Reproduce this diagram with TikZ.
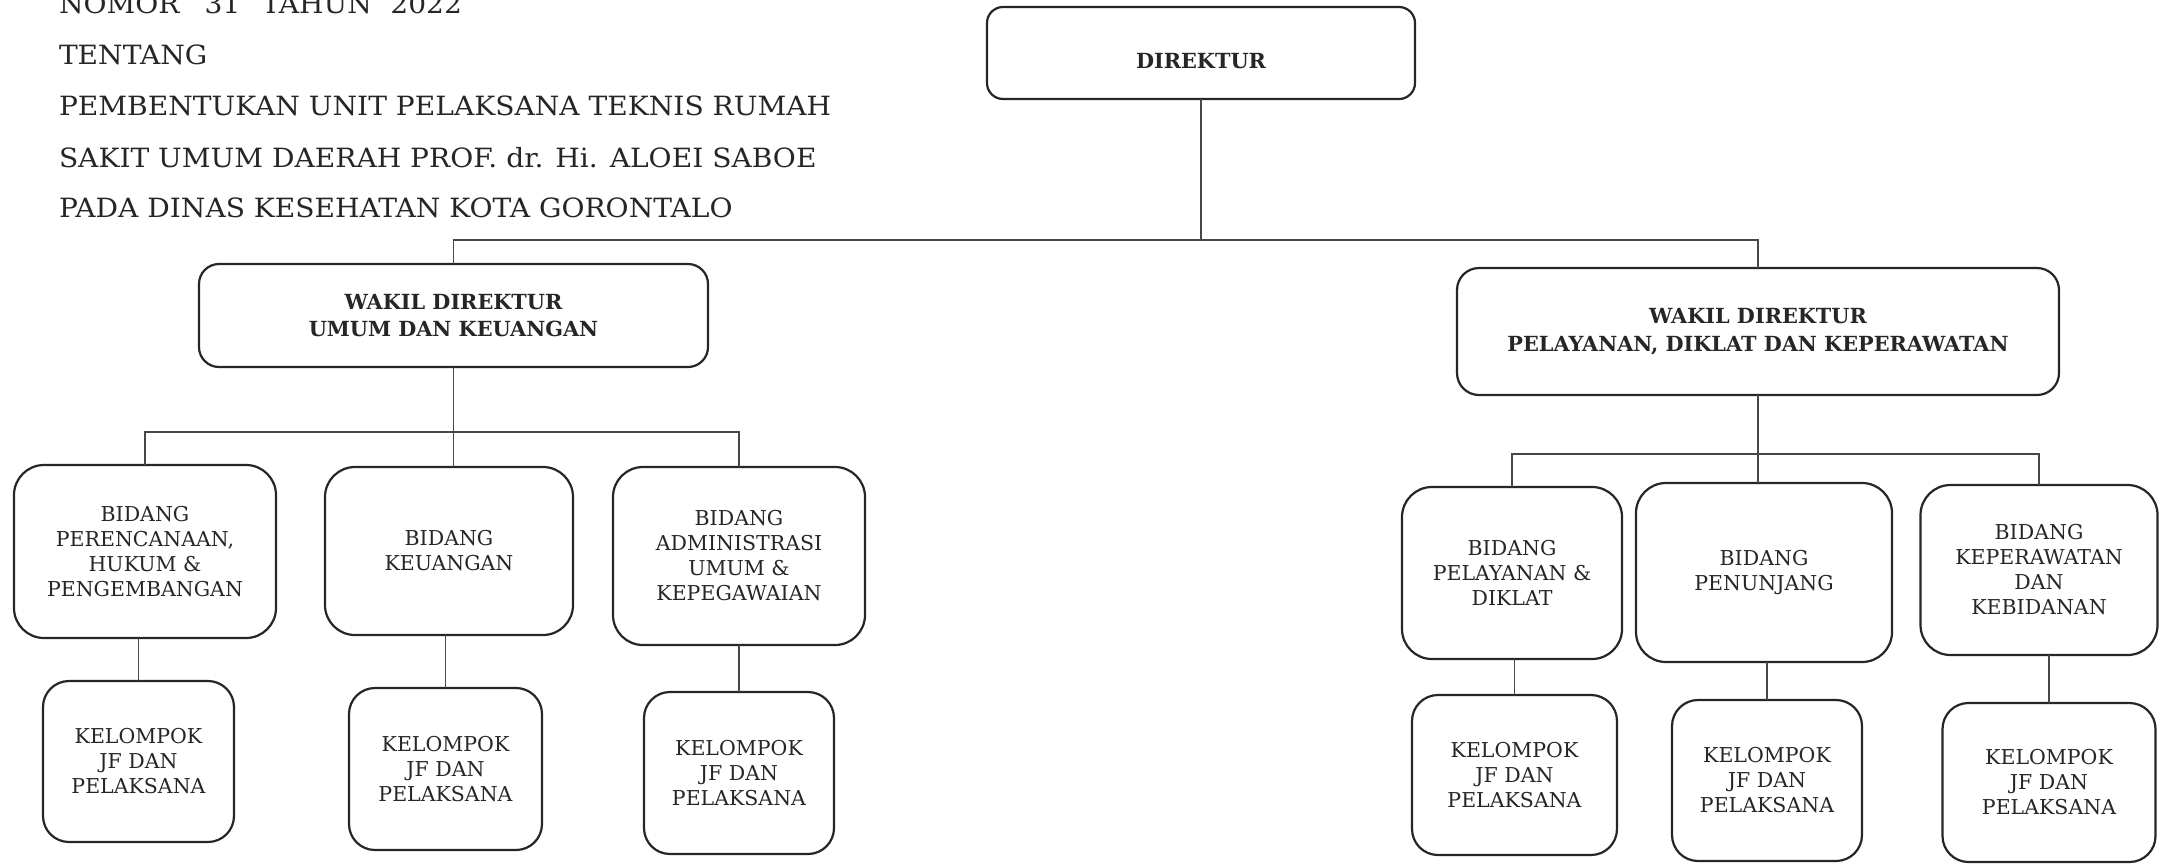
\documentclass[tikz,border=0pt]{standalone}
\usepackage{fontspec}
\setmainfont{DejaVu Serif}
\newfontfamily\headingfont{DejaVu Serif}[FakeStretch=1.06]
\definecolor{ink}{HTML}{262626}
\definecolor{wirecol}{HTML}{474747}

\begin{document}
\begin{tikzpicture}[x=1pt,y=-1pt,
  every node/.style={outer sep=0pt, inner sep=0pt, text=ink},
  card/.style={draw=ink, line width=2.2pt, align=center,
    font=\fontsize{20.5}{25}\selectfont},
  headcard/.style={card, font=\fontsize{20.8}{27.5}\selectfont\bfseries},
  bidang/.style={card, rounded corners=30pt},
  kelompok/.style={card, rounded corners=26pt},
  hdr/.style={anchor=base west, font=\headingfont\fontsize{26.5}{30}\selectfont},
  wire/.style={draw=wirecol, line width=1.3pt},
]
\useasboundingbox (0,0) rectangle (2160,863);
\clip (0,0) rectangle (2160,863);
\fill[white] (0,0) rectangle (2160,863);

% heading of the decree (first line runs off the top edge of the sheet)
\node[hdr] (h1) at (59,13) {NOMOR\hspace{0.95em}31\hspace{0.8em}TAHUN\hspace{0.7em}2022};
\node[hdr] (h2) at (59,64) {TENTANG};
\node[hdr] (h3) at (59,115) {PEMBENTUKAN UNIT PELAKSANA TEKNIS RUMAH};
\node[hdr] (h4) at (59,167) {SAKIT UMUM DAERAH PROF. dr. Hi. ALOEI SABOE};
\node[hdr] (h5) at (59,217) {PADA DINAS KESEHATAN KOTA GORONTALO};

% top level
\node[headcard, rounded corners=16pt, minimum width=428pt, minimum height=92pt,
      text height=31pt, text depth=0pt] (dir) at (1201,53) {DIREKTUR};

% deputy directors
\node[headcard, rounded corners=20pt, minimum width=509pt, minimum height=103pt]
  (w1) at (453.5,315.5) {WAKIL DIREKTUR\\UMUM DAN KEUANGAN};
\node[headcard, rounded corners=22pt, minimum width=602pt, minimum height=127pt]
  (w2) at (1758,331.5) {WAKIL DIREKTUR\\PELAYANAN, DIKLAT DAN KEPERAWATAN};

% divisions, left branch
\node[bidang, minimum width=262pt, minimum height=173pt] (b1) at (145,551.5)
  {BIDANG\\PERENCANAAN,\\HUKUM \&\\PENGEMBANGAN};
\node[bidang, minimum width=248pt, minimum height=168pt] (b2) at (449,551)
  {BIDANG\\KEUANGAN};
\node[bidang, minimum width=252pt, minimum height=178pt] (b3) at (739,556)
  {BIDANG\\ADMINISTRASI\\UMUM \&\\KEPEGAWAIAN};

% divisions, right branch
\node[bidang, minimum width=220pt, minimum height=172pt] (b4) at (1512,573)
  {BIDANG\\PELAYANAN \&\\DIKLAT};
\node[bidang, minimum width=256pt, minimum height=179pt] (b5) at (1764,572.5)
  {BIDANG\\PENUNJANG};
\node[bidang, minimum width=237pt, minimum height=170pt] (b6) at (2039,570)
  {BIDANG\\KEPERAWATAN\\DAN\\KEBIDANAN};

% functional groups
\node[kelompok, minimum width=191pt, minimum height=161pt] (k1) at (138.5,761.5)
  {KELOMPOK\\JF DAN\\PELAKSANA};
\node[kelompok, minimum width=193pt, minimum height=162pt] (k2) at (445.5,769)
  {KELOMPOK\\JF DAN\\PELAKSANA};
\node[kelompok, minimum width=190pt, minimum height=162pt] (k3) at (739,773)
  {KELOMPOK\\JF DAN\\PELAKSANA};
\node[kelompok, minimum width=205pt, minimum height=160pt] (k4) at (1514.5,775)
  {KELOMPOK\\JF DAN\\PELAKSANA};
\node[kelompok, minimum width=190pt, minimum height=161pt] (k5) at (1767,780.5)
  {KELOMPOK\\JF DAN\\PELAKSANA};
\node[kelompok, minimum width=213pt, minimum height=159pt] (k6) at (2049,782.5)
  {KELOMPOK\\JF DAN\\PELAKSANA};

% bus levels
\coordinate (busT) at (0,240);
\coordinate (busL) at (0,432);
\coordinate (busR) at (0,454);

% director to deputies
\draw[wire] (dir.south) -- (dir.south |- busT);
\draw[wire] (w1.north) -- (w1.north |- busT) -- (w2.north |- busT) -- (w2.north);

% left deputy to divisions
\draw[wire] (w1.south) -- (w1.south |- b2.north);
\draw[wire] (b1.north) -- (b1.north |- busL) -- (b3.north |- busL) -- (b3.north);

% right deputy to divisions
\draw[wire] (w2.south) -- (w2.south |- b5.north);
\draw[wire] (b4.north) -- (b4.north |- busR) -- (b6.north |- busR) -- (b6.north);

% divisions to functional groups
\draw[wire] (k1.north) -- (k1.north |- b1.south);
\draw[wire] (k2.north) -- (k2.north |- b2.south);
\draw[wire] (k3.north) -- (k3.north |- b3.south);
\draw[wire] (k4.north) -- (k4.north |- b4.south);
\draw[wire] (k5.north) -- (k5.north |- b5.south);
\draw[wire] (k6.north) -- (k6.north |- b6.south);
\end{tikzpicture}
\end{document}
